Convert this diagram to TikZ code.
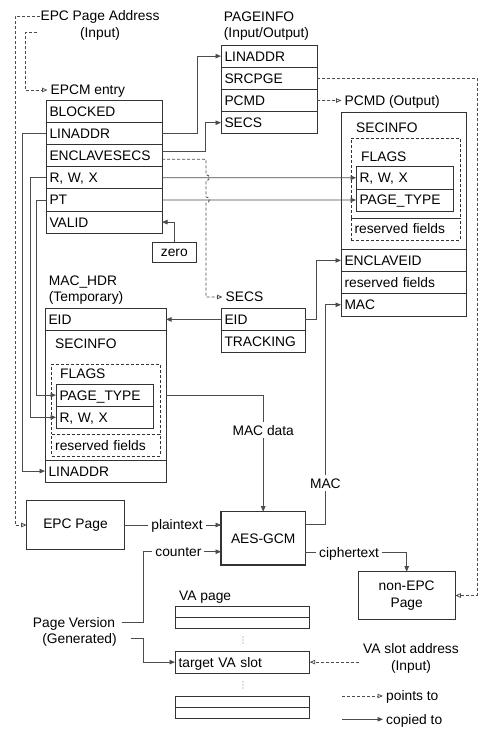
\documentclass[tikz,border=0pt]{standalone}
\usepackage{fontspec}
\setmainfont{Liberation Sans}
\usetikzlibrary{positioning,arrows.meta}
\definecolor{boxline}{gray}{0.2}
\definecolor{wire}{gray}{0.3}
\tikzset{
  every node/.style={font=\fontsize{13.8}{16.3}\selectfont, inner sep=3pt},
  lbl/.style={text height=9.9pt, text depth=0pt},
  field/.style={draw=boxline, line width=0.8pt, outer sep=0pt, inner xsep=3.5pt, minimum height=22.2pt,
    text height=9.9pt, text depth=0pt, align=left, text width=#1, anchor=north west},
  plainbox/.style={draw=boxline, line width=0.8pt, outer sep=0pt, inner sep=0pt},
  dashbox/.style={draw=boxline, dash pattern=on 3pt off 2pt, line width=0.8pt, outer sep=0pt, inner sep=0pt},
  vabar/.style={plainbox, minimum width=134.7pt, minimum height=11pt},
  copyto/.style={draw=wire, line width=0.8pt, -{Triangle[length=5.5pt,width=4.5pt]}},
  pointto/.style={draw=wire, line width=0.8pt, dash pattern=on 3pt off 2pt, -{Triangle[open,length=5.5pt,width=4.5pt]}},
  onwire/.style={lbl, fill=white},
}
\begin{document}
\begin{tikzpicture}[x=1pt,y=-1pt]
\fill[white] (0,0) rectangle (484,731);
\useasboundingbox (0,0) rectangle (484,731);

% titles
\node[align=center] (addr) at (100,25.3) {EPC Page Address\\(Input)};
\node[lbl, anchor=west] (epcmL) at (47.5,90) {EPCM entry};
\node[align=left, anchor=west] (pinfoL) at (220.7,26.2) {PAGEINFO\\(Input/Output)};
\node[lbl, anchor=west] (pcmdL) at (341.5,100.5) {PCMD (Output)};
\node[align=left, anchor=west] (hdrL) at (45.7,290.2) {MAC\_HDR\\(Temporary)};
\node[lbl, anchor=west] (secsL) at (222.5,297) {SECS};

% EPCM entry
\node[field=109pt] (eBlk) at (46,100) {BLOCKED};
\node[field=109pt, below=0pt of eBlk] (eLin) {LINADDR};
\node[field=109pt, below=0pt of eLin] (eEncl) {ENCLAVESECS};
\node[field=109pt, below=0pt of eEncl] (eRwx) {R, W, X};
\node[field=109pt, below=0pt of eRwx] (ePt) {PT};
\node[field=109pt, below=0pt of ePt] (eValid) {VALID};
\node[plainbox, minimum width=43.3pt, minimum height=20.4pt] (zero) at (174.3,252.5) {zero};

% PAGEINFO
\node[field=89pt] (pLin) at (221,45) {LINADDR};
\node[field=89pt, below=0pt of pLin] (pSrc) {SRCPGE};
\node[field=89pt, below=0pt of pSrc] (pPcmd) {PCMD};
\node[field=89pt, below=0pt of pPcmd] (pSecs) {SECS};

% PCMD (output)
\node[plainbox, anchor=north west, minimum width=125pt, minimum height=137.3pt] (oSec) at (341,112) {};
\node[field=118pt, below=0pt of oSec] (oEncl) {ENCLAVEID};
\node[field=118pt, below=0pt of oEncl] (oRsv) {reserved fields};
\node[field=118pt, below=0pt of oRsv] (oMac) {MAC};
\node[lbl, anchor=west] (oSecL) at (353,128) {SECINFO};
\node[dashbox, anchor=north west, minimum width=109pt, minimum height=80pt] (oFlags) at (351,138) {};
\node[lbl, anchor=west] (oFlagL) at (358,157) {FLAGS};
\node[field=90.7pt] (oRwx) at (356,166.7) {R, W, X};
\node[field=90.7pt, below=0pt of oRwx] (oPt) {PAGE\_TYPE};
\node[dashbox, lbl, below=0pt of oFlags, minimum width=109pt, minimum height=22pt, text width=102pt,
  inner xsep=3.5pt, align=left] (oRes) {reserved fields};

% MAC_HDR
\node[field=114pt] (hEid) at (45,308.3) {EID};
\node[plainbox, below=0pt of hEid, minimum width=121pt, minimum height=129.5pt] (hSec) {};
\node[field=114pt, below=0pt of hSec] (hLin) {LINADDR};
\node[lbl, anchor=west] (hSecL) at (52,344) {SECINFO};
\node[dashbox, anchor=north west, minimum width=108.3pt, minimum height=70.3pt] (hFlags) at (51.7,364) {};
\node[lbl, anchor=west] (hFlagL) at (57,373.3) {FLAGS};
\node[field=90.7pt] (hPt) at (56,384) {PAGE\_TYPE};
\node[field=90.7pt, below=0pt of hPt] (hRwx) {R, W, X};
\node[dashbox, lbl, below=0pt of hFlags, minimum width=108.3pt, minimum height=21.7pt, text width=101.3pt,
  inner xsep=3.5pt, align=left] (hRes) {reserved fields};

% SECS
\node[field=77.3pt] (sEid) at (221,308.3) {EID};
\node[field=77.3pt, below=0pt of sEid] (sTrk) {TRACKING};

% crypto
\node[plainbox, minimum width=97.6pt, minimum height=48.6pt] (epcpage) at (75.5,525) {EPC Page};
\node[plainbox, line width=1.6pt, minimum width=84.3pt, minimum height=53.3pt] (aes) at (263.2,538.3) {AES-GCM};
\node[plainbox, align=center, minimum width=97.3pt, minimum height=47.6pt] (nonepc) at (406.7,595.5) {non-EPC\\Page};
\node[lbl] (pv1) at (74,622.7) {Page Version};
\node[lbl] (pv2) at (79.5,638.3) {(Generated)};

% VA page
\node[lbl, anchor=west] (vaL) at (176,595.7) {VA page};
\node[vabar, anchor=north west] (va1) at (175,606.7) {};
\node[vabar, below=0pt of va1] (va2) {};
\coordinate (dots1) at (243,640);
\node[field=127.7pt] (slot) at (175,651) {target VA slot};
\coordinate (dots2) at (243,685);
\node[vabar, anchor=north west] (va3) at (175,696) {};
\node[vabar, below=0pt of va3] (va4) {};
\foreach \d in {-3,0,3} {
  \fill[gray] ([yshift=\d pt]dots1) circle[radius=0.55pt];
  \fill[gray] ([yshift=\d pt]dots2) circle[radius=0.55pt];
}
\node[align=center] (vaAddr) at (411,658.5) {VA slot address\\(Input)};

% legend
\coordinate (lgPointA) at (342,696);
\coordinate (lgCopyA) at (342,719.3);
\node[lbl, anchor=west] (lgPoint) at (383,696) {points to};
\node[lbl, anchor=west] (lgCopy) at (383,719.3) {copied to};

% connectors
\draw[pointto] ([xshift=3pt,yshift=9.3pt]addr.west) -- ++(-25,0) |- (epcpage.west);
\draw[pointto] ([yshift=-7.5pt]addr.west) -- ++(-12,0) |- (epcmL.west);
\draw[copyto] (eLin.east) -- ++(35,0) |- (pLin.west);
\draw[copyto] ([yshift=3.8pt]eEncl.east) -- ++(43,0) |- (pSecs.west);
\draw[pointto] ([yshift=-3.8pt]eEncl.east) -- ++(44,0) -- ++(0,15.4)
  .. controls +(4.5,0) and +(4.5,0) .. ++(0,6) -- ++(0,16.2)
  .. controls +(4.5,0) and +(4.5,0) .. ++(0,6) |- (secsL.west);
\draw[copyto] (eRwx.east) -- (oRwx.west);
\draw[copyto] (ePt.east) -- (oPt.west);
\draw[copyto] (zero.north) |- (eValid.east);
\draw[copyto] (eLin.west) -- ++(-24,0) |- (hLin.west);
\draw[copyto] (eRwx.west) -- ++(-16,0) |- (hRwx.west);
\draw[copyto] (ePt.west) -- ++(-10,0) |- (hPt.west);
\draw[pointto] (pPcmd.east) -- (pcmdL.west);
\draw[pointto] (pSrc.east) -- ++(160,0) |- (nonepc.east);
\draw[copyto] (sEid.west) -- (sEid.west -| hEid.east);
\draw[copyto] (sEid.east) -- ++(11,0) |- (oEncl.west);
\draw[copyto] (hSec.east |- hPt.east) -| node[onwire, pos=0.65]{MAC data} (aes.north);
\draw[copyto] ([yshift=14.3pt]aes.east) -- ++(20,0) |- node[onwire, pos=0.093]{MAC} (oMac.west);
\draw[copyto] (epcpage.east) -- node[onwire, pos=0.545]{plaintext} (epcpage.east -| aes.west);
\draw[copyto] ([xshift=3.5pt]pv1.east) -- ++(22,0) |- node[onwire, pos=0.724]{counter} ([yshift=-13.4pt]aes.west);
\draw[copyto] ([yshift=-14.4pt]aes.east) -| node[onwire, pos=0.216]{ciphertext} (nonepc.north);
\draw[copyto] ([xshift=10.6pt]pv2.east) -- ++(13,0) |- (slot.west);
\draw[pointto] ([xshift=-1pt]vaAddr.west |- slot.east) -- (slot.east);
\draw[pointto] (lgPointA) -- (lgPoint.west);
\draw[copyto] (lgCopyA) -- (lgCopy.west);
\end{tikzpicture}
\end{document}
